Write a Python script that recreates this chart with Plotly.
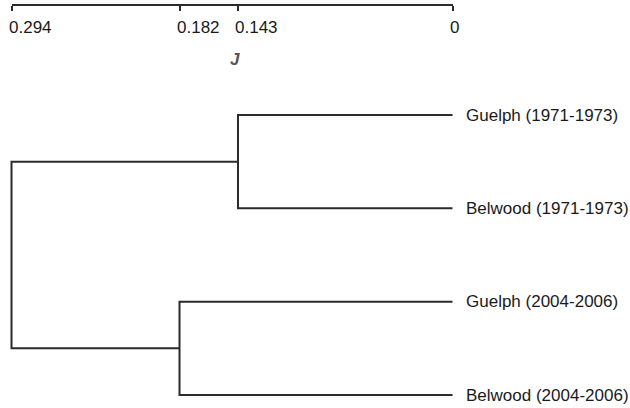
import plotly.graph_objects as go

# ---- data ----
leaf_labels = ["Guelph (1971-1973)", "Belwood (1971-1973)",
               "Guelph (2004-2006)", "Belwood (2004-2006)"]
leaf_pos = [0, 1, 2, 3]
# merges: (left leaf index, right leaf index, dissimilarity J)
merge_1971 = (0, 1, 0.143)
merge_2004 = (2, 3, 0.182)
root_height = 0.294
tick_vals = [0.294, 0.182, 0.143, 0]
tick_text = ["0.294", "0.182", "0.143", "0"]

W, H = 630, 408
LINE = "#2b2b2b"
FONT = "Liberation Sans"

fig = go.Figure()

def add_link(x, y):
    fig.add_trace(go.Scatter(x=x, y=y, mode="lines", xaxis="x", yaxis="y",
                             line=dict(color=LINE, width=2),
                             hoverinfo="skip", showlegend=False))

mids = []
for a, b, h in (merge_1971, merge_2004):
    ya, yb = leaf_pos[a], leaf_pos[b]
    add_link([0.0, h, h, 0.0], [ya, ya, yb, yb])
    mids.append(((ya + yb) / 2, h))
(y1, h1), (y2, h2) = mids
add_link([h1, root_height, root_height, h2], [y1, y1, y2, y2])

# invisible trace carrying the top J axis
fig.add_trace(go.Scatter(x=tick_vals, y=[0.0] * len(tick_vals), xaxis="x2", yaxis="y",
                         mode="markers", marker=dict(opacity=0, size=1),
                         hoverinfo="skip", showlegend=False))

px_per_unit = (452.5 - 11.5) / root_height
x_left = root_height + 11.5 / px_per_unit
x_right = -(W - 452.5) / px_per_unit

py_per_unit = (395 - 115) / 3
y_top = -115 / py_per_unit
y_bottom = (H - 115) / py_per_unit

fig.update_layout(
    width=W, height=H,
    margin=dict(l=0, r=0, t=0, b=0),
    paper_bgcolor="white", plot_bgcolor="rgba(0,0,0,0)",
    xaxis=dict(type="linear", range=[x_left, x_right], visible=False, domain=[0, 1]),
    yaxis=dict(type="linear", range=[y_bottom, y_top], visible=False, domain=[0, 1]),
    xaxis2=dict(type="linear", domain=[11.5 / W, 452.5 / W], range=[root_height, 0],
                anchor="free", position=1 - 5 / H, side="bottom",
                showline=True, linecolor=LINE, linewidth=2,
                ticks="outside", ticklen=5, tickwidth=2, tickcolor=LINE,
                tickvals=tick_vals, showticklabels=False,
                showgrid=False, zeroline=False),
)

# leaf labels
for lab, y in zip(leaf_labels, leaf_pos):
    fig.add_annotation(x=0, y=y, xref="x", yref="y", text=lab,
                       showarrow=False, xanchor="left", yanchor="middle",
                       xshift=11.5,
                       font=dict(family=FONT, size=17, color="#1a1a1a"))

# tick labels (left aligned near ticks)
for v, t in zip(tick_vals, tick_text):
    fig.add_annotation(x=v, y=1 - 27.5 / H, xref="x2", yref="paper", text=t,
                       showarrow=False, xanchor="left", yanchor="middle",
                       xshift=-5,
                       font=dict(family=FONT, size=17, color="#1a1a1a"))

# axis title
fig.add_annotation(x=235 / W, y=1 - 59 / H, xref="paper", yref="paper",
                   text="<b><i>J</i></b>", showarrow=False,
                   xanchor="center", yanchor="middle",
                   font=dict(family=FONT, size=17, color="#555555"))

fig.write_html("out.html", config={"displayModeBar": False},
               post_script="document.body.style.margin='0';")
